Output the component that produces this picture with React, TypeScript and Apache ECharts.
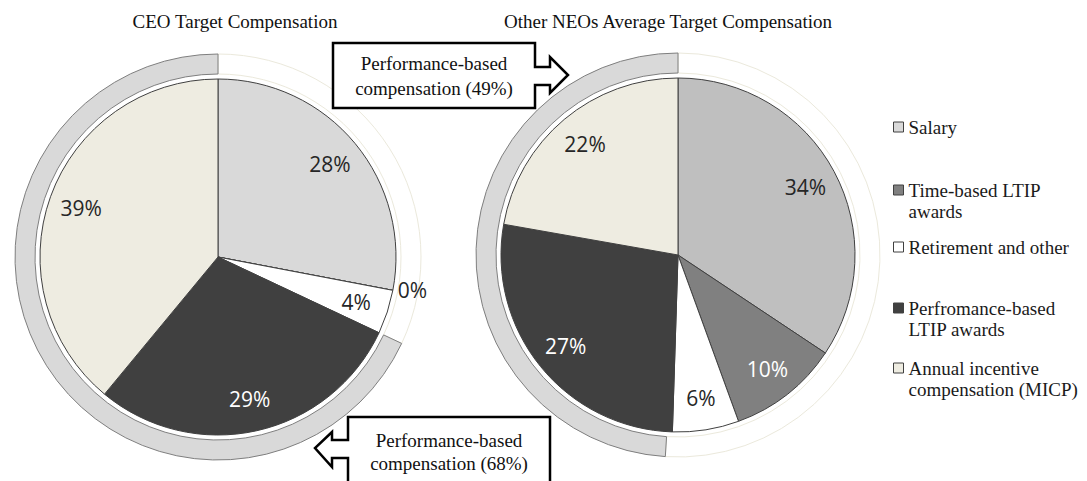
import React, { useEffect, useRef } from 'react';
import * as echarts from 'echarts';

// ---- data ----
const categories = [
  'Salary',
  'Time-based LTIP awards',
  'Retirement and other',
  'Perfromance-based LTIP awards',
  'Annual incentive compensation (MICP)',
];
const ceoValues = [28, 0, 4, 29, 39];
const neoValues = [34, 10, 6, 27, 22];
const ringNames = ['Other compensation', 'Performance-based compensation'];
const ceoRing = [32, 68];
const neoRing = [51, 49];
const titles = ['CEO Target Compensation', 'Other NEOs Average Target Compensation'];
const legendLines = [
  'Salary',
  '\nTime-based LTIP\nawards',
  'Retirement and other',
  '\nPerfromance-based\nLTIP awards',
  '\nAnnual incentive\ncompensation (MICP)',
];
const calloutTexts = ['Performance-based\ncompensation (49%)', 'Performance-based\ncompensation (68%)'];

// ---- styles ----
const ceoColors = ['#d9d9d9', '#808080', '#ffffff', '#404040', '#eeece1'];
const neoColors = ['#bfbfbf', '#808080', '#ffffff', '#404040', '#eeece1'];
const labelColors = ['#262626', '#ffffff', '#262626', '#ffffff', '#262626'];
const serif = 'Liberation Serif';
const sans = 'Open Sans';
const legendIconY = [127, 190, 247, 308, 368];

function mainPie(center: number[], r: number, values: number[], colors: string[]) {
  return {
    type: 'pie',
    center,
    radius: [0, r],
    startAngle: 90,
    clockwise: true,
    silent: true,
    avoidLabelOverlap: false,
    emphasis: { disabled: true },
    label: { show: false },
    labelLine: { show: false },
    itemStyle: { borderColor: '#404040', borderWidth: 1 },
    data: categories.map((n, i) => ({ name: n, value: values[i], itemStyle: { color: colors[i] } })),
  };
}

function labelPie(center: number[], r: number, values: number[]) {
  return {
    type: 'pie',
    center,
    radius: [r * 0.6, r],
    startAngle: 90,
    clockwise: true,
    silent: true,
    avoidLabelOverlap: false,
    emphasis: { disabled: true },
    itemStyle: { color: 'rgba(0,0,0,0)', borderWidth: 0 },
    label: { show: true, position: 'inside', formatter: '{c}%', fontFamily: sans, fontSize: 21 },
    labelLine: { show: false },
    data: categories.map((n, i) =>
      values[i] === 0
        ? {
            name: n,
            value: values[i],
            label: { position: 'outside', color: '#262626', alignTo: 'none' },
            labelLine: { show: false, length: 0, length2: 0 },
          }
        : { name: n, value: values[i], label: { color: labelColors[i] } }
    ),
  };
}

function ringPie(center: number[], r0: number, r1: number, values: number[]) {
  return {
    type: 'pie',
    center,
    radius: [r0, r1],
    startAngle: 90,
    clockwise: true,
    silent: true,
    emphasis: { disabled: true },
    label: { show: false },
    labelLine: { show: false },
    data: [
      {
        name: ringNames[0],
        value: values[0],
        itemStyle: { color: 'rgba(255,255,255,0)', borderColor: '#ebe9dc', borderWidth: 1 },
      },
      {
        name: ringNames[1],
        value: values[1],
        itemStyle: { color: '#d9d9d9', borderColor: '#7f7f7f', borderWidth: 1 },
      },
    ],
  };
}

export default function App() {
  const ref = useRef<HTMLDivElement>(null);
  useEffect(() => {
    if (!ref.current) return;
    const chart = echarts.init(ref.current, null, { renderer: 'svg' });
    const leftC = [218, 257];
    const rightC = [678, 255];
    const textStyleSerif = { fontFamily: serif, fontSize: 19, fill: '#111111', align: 'center', verticalAlign: 'middle' };
    chart.setOption({
      animation: false,
      backgroundColor: '#ffffff',
      title: [
        {
          text: titles[0],
          left: 235,
          top: 12,
          padding: 0,
          textAlign: 'center',
          textVerticalAlign: 'top',
          textStyle: { fontFamily: serif, fontSize: 19, fontWeight: 'normal', color: '#111111' },
        },
        {
          text: titles[1],
          left: 668,
          top: 12,
          padding: 0,
          textAlign: 'center',
          textVerticalAlign: 'top',
          textStyle: { fontFamily: serif, fontSize: 19, fontWeight: 'normal', color: '#111111' },
        },
      ],
      legend: categories.map((n, i) => {
        const multi = legendLines[i].indexOf('\n') >= 0;
        return {
          data: [n],
          left: 893,
          top: legendIconY[i] - (multi ? 31.5 : 10.5),
          padding: 0,
          orient: 'vertical',
          icon: 'rect',
          itemWidth: 10,
          itemHeight: 10,
          selectedMode: false,
          formatter: () => legendLines[i],
          itemStyle: { borderColor: '#404040', borderWidth: 1 },
          textStyle: { fontFamily: serif, fontSize: 19, lineHeight: 21, color: '#1a1a1a' },
        };
      }),
      series: [
        ringPie(leftC, 183, 203, ceoRing),
        mainPie(leftC, 178, ceoValues, ceoColors),
        labelPie(leftC, 178, ceoValues),
        ringPie(rightC, 182, 202, neoRing),
        mainPie(rightC, 177, neoValues, neoColors),
        labelPie(rightC, 177, neoValues),
      ],
      graphic: [
        {
          type: 'polygon',
          z: 100,
          shape: {
            points: [
              [333, 43], [535, 43], [535, 67], [550, 67], [550, 57], [568, 75], [550, 93],
              [550, 85], [535, 85], [535, 108], [333, 108],
            ],
          },
          style: { fill: '#ffffff', stroke: '#000000', lineWidth: 2.5 },
        },
        {
          type: 'text',
          z: 101,
          x: 434,
          y: 75.5,
          style: { ...textStyleSerif, text: calloutTexts[0], lineHeight: 25 },
        },
        {
          type: 'polygon',
          z: 100,
          shape: {
            points: [
              [550, 417], [348, 417], [348, 440], [332, 440], [332, 432], [315, 448], [332, 467],
              [332, 458], [348, 458], [348, 495], [550, 495],
            ],
          },
          style: { fill: '#ffffff', stroke: '#000000', lineWidth: 2.5 },
        },
        {
          type: 'text',
          z: 101,
          x: 449,
          y: 451.5,
          style: { ...textStyleSerif, text: calloutTexts[1], lineHeight: 23 },
        },
      ],
    });
    return () => chart.dispose();
  }, []);
  return (
    <div
      ref={ref}
      style={{ position: 'fixed', left: 0, top: 0, width: 1087, height: 481, background: '#fff' }}
    />
  );
}
